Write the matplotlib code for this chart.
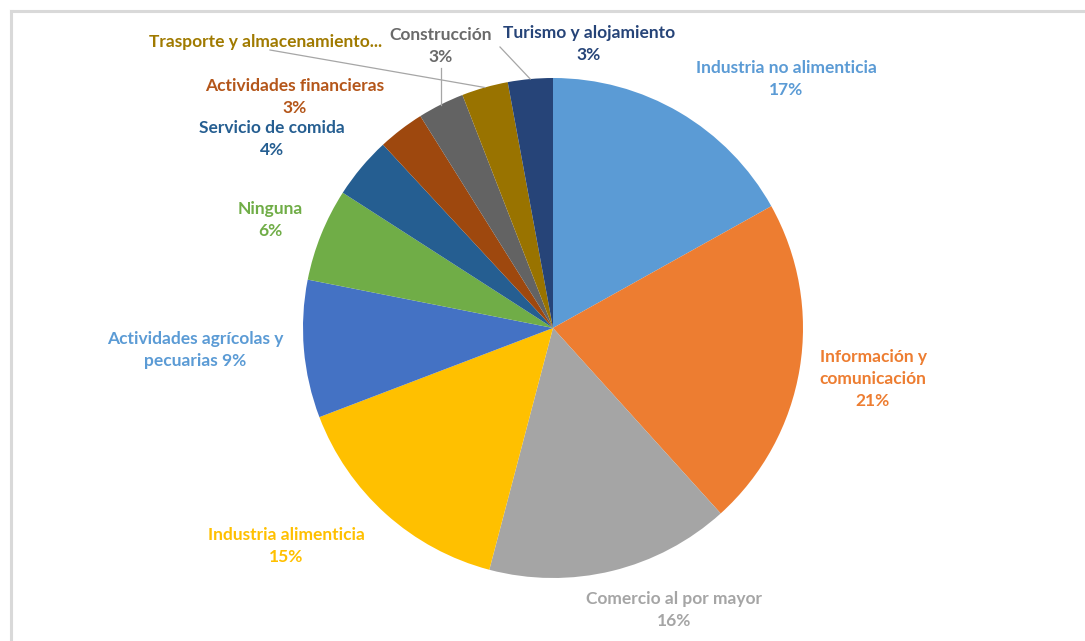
import matplotlib
matplotlib.use("Agg")
import matplotlib.pyplot as plt
from matplotlib.lines import Line2D
import numpy as np

categories = ["Industria no alimenticia", "Información y comunicación", "Comercio al por mayor",
              "Industria alimenticia", "Actividades agrícolas y pecuarias", "Ninguna",
              "Servicio de comida", "Actividades financieras", "Construcción",
              "Trasporte y almacenamiento", "Turismo y alojamiento"]
values = [16.9, 21.4, 15.8, 15.1, 8.9, 6.0, 4.0, 3.0, 3.0, 3.0, 2.9]
label_texts = ["Industria no alimenticia\n{p}%", "Información y\ncomunicación\n{p}%",
               "Comercio al por mayor\n{p}%", "Industria alimenticia\n{p}%",
               "Actividades agrícolas y\npecuarias {p}%", "Ninguna\n{p}%",
               "Servicio de comida\n{p}%", "Actividades financieras\n{p}%",
               "Construcción\n{p}%", "Trasporte y almacenamiento...", "Turismo y alojamiento\n{p}%"]

colors = ["#5B9BD5", "#ED7D31", "#A5A5A5", "#FFC000", "#4472C4", "#70AD47",
          "#255E91", "#9E480E", "#636363", "#997300", "#264478"]
text_colors = ["#5B9BD5", "#ED7D31", "#A5A5A5", "#FFC000", "#5B9BD5", "#70AD47",
               "#255E91", "#B4561A", "#6A6A6A", "#A07A00", "#264478"]
label_pos = [(0.932, 0.996), (1.28, -0.204), (0.484, -1.128), (-1.068, -0.872),
             (-1.432, -0.088), (-1.132, 0.432), (-1.124, 0.756), (-1.032, 0.924),
             (-0.448, 1.128), (-1.148, 1.144), (0.144, 1.136)]

W, H = 1085, 641
fig = plt.figure(figsize=(W / 100, H / 100), dpi=100)
fig.patch.set_facecolor("white")

# frame lines (left and top)
fig.add_artist(Line2D([10.5 / W, 10.5 / W], [0, 1 - 10.5 / H], transform=fig.transFigure,
                      color="#D9D9D9", lw=2.2))
fig.add_artist(Line2D([10.5 / W, 1], [1 - 10.5 / H, 1 - 10.5 / H], transform=fig.transFigure,
                      color="#D9D9D9", lw=2.2))

cx, cy, r = 553, 328, 250
ax = fig.add_axes([(cx - r) / W, (H - cy - r) / H, 2 * r / W, 2 * r / H])
wedges, _ = ax.pie(values, colors=colors, startangle=90, counterclock=False,
                   radius=1.0, wedgeprops=dict(linewidth=0))
ax.set_xlim(-1, 1)
ax.set_ylim(-1, 1)
ax.set_aspect("equal")
ax.axis("off")

total = sum(values)
for i, (txt, pos) in enumerate(zip(label_texts, label_pos)):
    p = round(values[i] / total * 100)
    ax.text(pos[0], pos[1], txt.format(p=p), ha="center", va="center",
            color=text_colors[i], fontsize=12.5, fontweight="bold", family=["Lato", "DejaVu Sans"],
            linespacing=1.45, clip_on=False)

# leader lines
def edge(idx):
    start = 90 - sum(values[:idx]) / total * 360
    mid = start - values[idx] / total * 180
    return np.cos(np.radians(mid)), np.sin(np.radians(mid))

lc = "#A6A6A6"
ex, ey = edge(8)
ax.plot([ex, ex], [(cy - 68) / r, ey], color=lc, lw=0.9, clip_on=False)
ex, ey = edge(9)
ax.plot([(270 - cx) / r, ex], [(cy - 50) / r, ey], color=lc, lw=0.9, clip_on=False)
ex, ey = edge(10)
ax.plot([(500 - cx) / r, ex], [(cy - 47) / r, ey], color=lc, lw=0.9, clip_on=False)

fig.savefig("out.png", dpi=100, facecolor="white")
